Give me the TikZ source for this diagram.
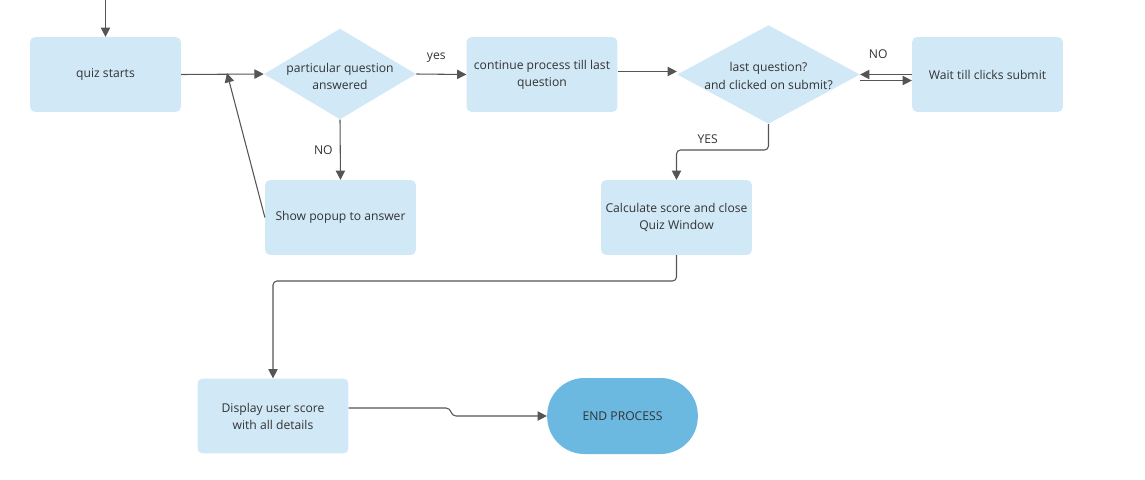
\documentclass[tikz,border=0pt]{standalone}
\usepackage{fontspec}
\setmainfont{Open Sans}
\usetikzlibrary{shapes.geometric, arrows.meta}

\definecolor{boxblue}{HTML}{D1E8F6}
\definecolor{endblue}{HTML}{6BB8E0}
\definecolor{linegrey}{HTML}{555555}
\definecolor{textgrey}{HTML}{333333}

\begin{document}
\begin{tikzpicture}[x=0.75pt, y=-0.75pt,
        every node/.style={font=\fontsize{9.1}{12.8}\selectfont, text=textgrey},
        stepbox/.style={fill=boxblue, rounded corners=3.5pt, minimum width=113pt,
            minimum height=56pt, align=center, inner sep=2pt},
        choice/.style={diamond, fill=boxblue, inner sep=0pt},
        endbox/.style={fill=endblue, rounded corners=28pt, minimum width=113pt,
            minimum height=57pt},
        flow/.style={draw=linegrey, line width=0.8pt, rounded corners=3pt,
            -{Triangle[length=7pt, width=7pt]}},
        tag/.style={font=\fontsize{9.1}{10}\selectfont}]
    \useasboundingbox (0,0) rectangle (1145,479);

    \node[stepbox] (start) at (105.5, 74.5) {quiz starts};
    \node[choice, minimum width=114pt, minimum height=68pt] (q) at (340, 74) {};
    \node[align=center] (qt) at (340, 76) {particular question\\answered};
    \node[stepbox] (popup) at (340.5, 217.5) {Show popup to answer};
    \node[stepbox] (cont) at (542, 74.5) {continue process till last\\question};
    \node[choice, minimum width=137pt, minimum height=74pt] (last) at (768.5, 74.5) {};
    \node[align=center] (lastt) at (768.5, 76) {last question?\\and clicked on submit?};
    \node[stepbox] (wait) at (987.5, 74.5) {Wait till clicks submit};
    \node[stepbox] (calc) at (676.5, 217.5) {Calculate score and close\\Quiz Window};
    \node[stepbox] (show) at (273, 416) {Display user score\\with all details};
    \node[endbox] (stop) at (622.5, 416) {END PROCESS};

    \coordinate (in) at (105.5, 0);
    \coordinate (join) at (227, 73);

    \draw[flow] (in) -- (start);
    \draw[flow] (start.east) -- (q.west);
    \draw[flow] (popup.west) -- (join);
    \draw[flow] (q.east) -- (cont.west) node[tag, pos=0.4, above=5pt] (yes) {yes};
    \draw[flow] (q.south) -- (popup.north) node[tag, midway, left=2pt] (no) {NO};
    \draw[flow] ([yshift=2.25pt]cont.east) -- ([yshift=2.25pt]last.west);
    \draw[flow] (last.south) |- (676.5, 150) node[tag, pos=0.83, above=1pt] (yes2) {YES} -- (calc.north);
    \draw[flow] (wait.west) -- (last.east) node[tag, pos=0.65, above=8pt] (no2) {NO};
    \draw[flow] ([yshift=-4.5pt]last.east) -- ([yshift=-4.5pt]wait.west);
    \draw[flow] (calc.south) |- (273, 281) -- (show.north);
    \draw[flow] ([yshift=6pt]show.east) -- (450, 408) -- (452, 416) -- (stop.west);
\end{tikzpicture}
\end{document}
